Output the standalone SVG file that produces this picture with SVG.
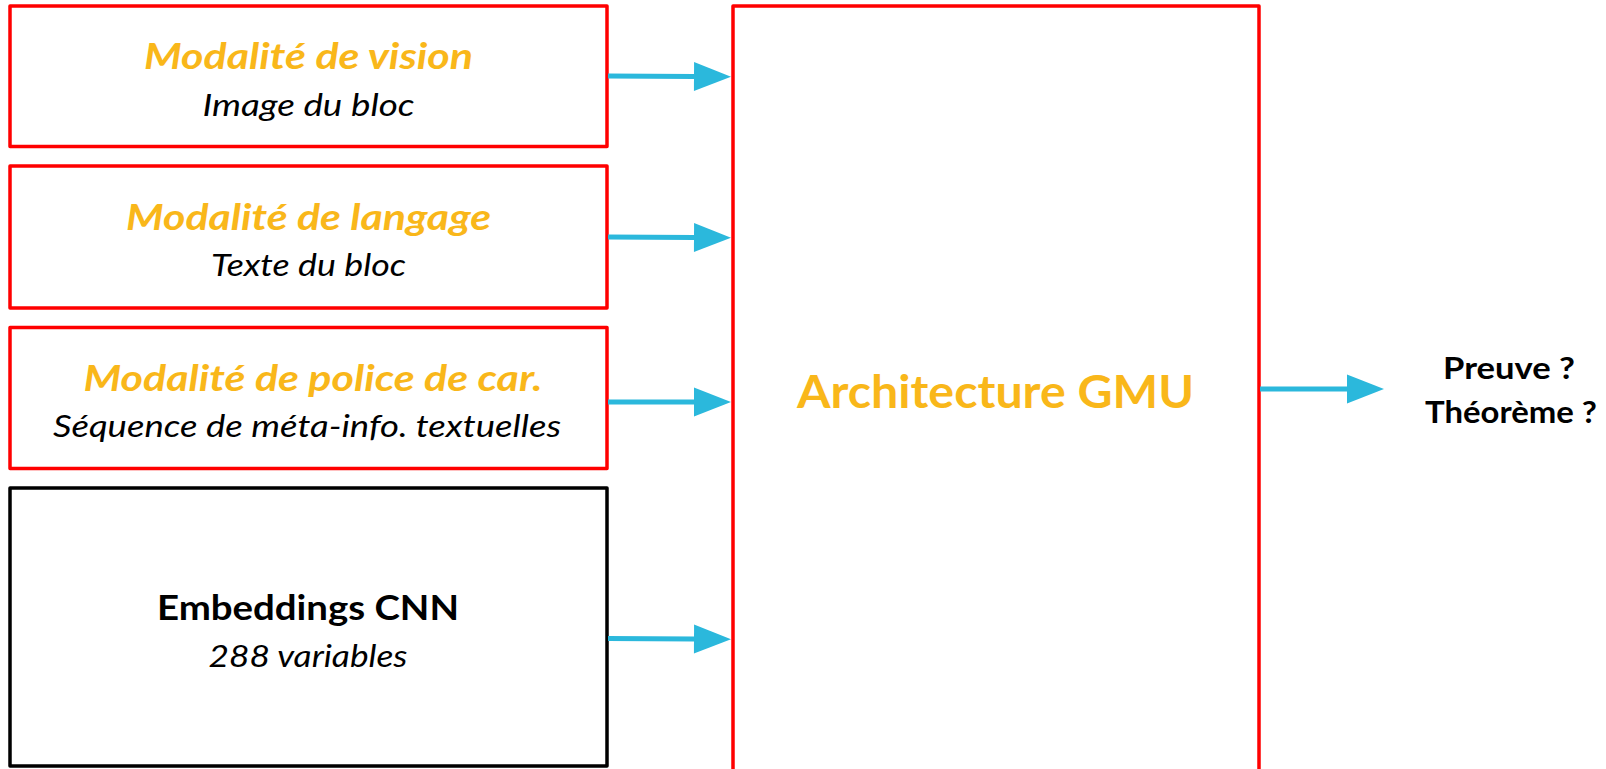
<svg xmlns="http://www.w3.org/2000/svg" width="1606" height="769" viewBox="0 0 1606 769">
  <style>
    .box { fill: #ffffff; stroke: #ff0000; stroke-width: 3.5; stroke-linejoin: round; }
    .box-black { fill: #ffffff; stroke: #000000; stroke-width: 3.5; stroke-linejoin: round; }
    .head { font-family: Lato, "Open Sans", sans-serif; font-weight: bold; font-style: italic; font-size: 37px; fill: #f9b71a; text-anchor: middle; }
    .sub { font-family: Lato, "Open Sans", sans-serif; font-style: italic; font-size: 30px; fill: #000000; text-anchor: middle; }
    .title { font-family: Lato, "Open Sans", sans-serif; font-weight: bold; font-size: 35px; fill: #000000; text-anchor: middle; }
    .main { font-family: Lato, "Open Sans", sans-serif; font-weight: bold; font-size: 46px; fill: #f9b71a; text-anchor: middle; }
    .out { font-family: Lato, "Open Sans", sans-serif; font-weight: bold; font-size: 31px; fill: #000000; text-anchor: middle; }
    .conn { stroke: #2bb8dc; stroke-width: 5; fill: none; marker-end: url(#arrow); }
  </style>
  <defs>
    <marker id="arrow" markerUnits="userSpaceOnUse" markerWidth="38" markerHeight="30" refX="0" refY="14.5" orient="auto" overflow="visible">
      <path d="M0,0 L37,14.5 L0,29 Z" fill="#2bb8dc"/>
    </marker>
  </defs>

  <rect width="1606" height="769" fill="#ffffff"/>

  <g id="vision">
    <rect class="box" x="10" y="6" width="597" height="140.5"/>
    <text class="head" x="308.5" y="69" textLength="329" lengthAdjust="spacingAndGlyphs">Modalité de vision</text>
    <text class="sub" x="308.5" y="116" textLength="212" lengthAdjust="spacingAndGlyphs">Image du bloc</text>
  </g>

  <g id="langage">
    <rect class="box" x="10" y="166" width="597" height="142"/>
    <text class="head" x="308.5" y="229.5" textLength="365" lengthAdjust="spacingAndGlyphs">Modalité de langage</text>
    <text class="sub" x="308.5" y="276" textLength="195" lengthAdjust="spacingAndGlyphs">Texte du bloc</text>
  </g>

  <g id="police">
    <rect class="box" x="10" y="327.5" width="597" height="141"/>
    <text class="head" x="313" y="390.5" textLength="459" lengthAdjust="spacingAndGlyphs">Modalité de police de car.</text>
    <text class="sub" x="307" y="436.5" textLength="508" lengthAdjust="spacingAndGlyphs">Séquence de méta-info. textuelles</text>
  </g>

  <g id="cnn">
    <rect class="box-black" x="10" y="488" width="597" height="278"/>
    <text class="title" x="308" y="620" textLength="302" lengthAdjust="spacingAndGlyphs">Embeddings CNN</text>
    <text class="sub" x="308" y="666.5" textLength="199" lengthAdjust="spacingAndGlyphs">288 variables</text>
  </g>

  <g id="gmu">
    <rect class="box" x="733" y="6" width="526" height="780"/>
    <text class="main" x="995.5" y="407.5" textLength="397" lengthAdjust="spacingAndGlyphs">Architecture GMU</text>
  </g>

  <g id="sortie">
    <text class="out" x="1509" y="379" textLength="132" lengthAdjust="spacingAndGlyphs">Preuve ?</text>
    <text class="out" x="1511" y="423" textLength="172" lengthAdjust="spacingAndGlyphs">Théorème ?</text>
  </g>

  <g id="connectors">
    <line class="conn" x1="608" y1="76" x2="694" y2="76.5"/>
    <line class="conn" x1="608" y1="237" x2="694" y2="237.5"/>
    <line class="conn" x1="608" y1="402" x2="694" y2="402"/>
    <line class="conn" x1="608" y1="638.5" x2="694" y2="639"/>
    <line class="conn" x1="1260" y1="389" x2="1347" y2="389"/>
  </g>
</svg>
